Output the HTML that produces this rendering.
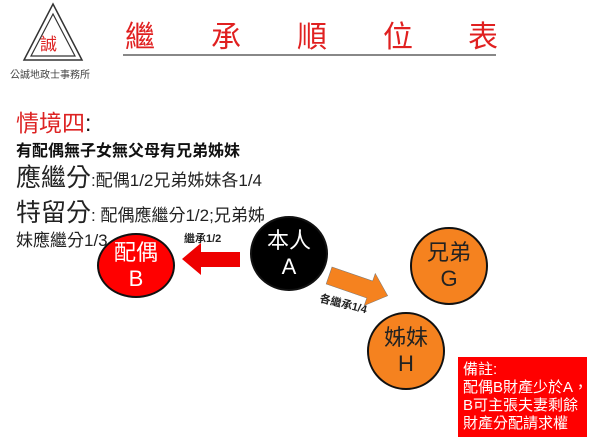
<!DOCTYPE html><html><head><meta charset="utf-8"><style>
body{margin:0;width:600px;height:442px;background:#fff;overflow:hidden;position:relative;font-family:"Liberation Sans","Noto Sans CJK TC",sans-serif}
.a{position:absolute;white-space:nowrap}
.c{position:absolute;border:2px solid #111;border-radius:50%;box-sizing:border-box;text-align:center;font-size:22px;line-height:26px;display:flex;flex-direction:column;justify-content:center}
</style></head><body>
<svg class="a" style="left:0;top:0" width="600" height="442">
<polygon points="53,4 82,60 24,60" fill="none" stroke="#333" stroke-width="1.5"/>
<polygon points="53,14 75,56 31,56" fill="none" stroke="#333" stroke-width="1.2"/>
<line x1="123" y1="55" x2="496" y2="55" stroke="#888" stroke-width="2"/>
<polygon points="240,252 201,252 201,243 182,259 201,275 201,267 240,267" fill="#e00"/>
<g transform="translate(332,267) rotate(19)"><polygon points="0,0 43,0 43,-8 62,9 43,26 43,18 0,18" fill="#f5821f" stroke="#777" stroke-width="0.5"/></g>
</svg>
<div class="a" style="left:40px;top:30px;font-size:17px;color:#d22">誠</div>
<div class="a" style="left:10px;top:66px;font-size:10px;color:#444">公誠地政士事務所</div>
<div class="a" style="left:125px;top:12px;font-size:30px;color:#e02020">繼</div>
<div class="a" style="left:211px;top:12px;font-size:30px;color:#e02020">承</div>
<div class="a" style="left:297px;top:12px;font-size:30px;color:#e02020">順</div>
<div class="a" style="left:383px;top:12px;font-size:30px;color:#e02020">位</div>
<div class="a" style="left:468px;top:12px;font-size:30px;color:#e02020">表</div>
<div class="a" style="left:16px;top:104px;font-size:23px;color:#d22">情境四<span style="color:#111">:</span></div>
<div class="a" style="left:16px;top:137px;font-size:16px;font-weight:bold;color:#111">有配偶無子女無父母有兄弟姊妹</div>
<div class="a" style="left:16px;top:158px;font-size:25px;color:#222">應繼分<span style="font-size:17px">:配偶1/2兄弟姊妹各1/4</span></div>
<div class="a" style="left:16px;top:193px;font-size:25px;color:#222">特留分<span style="font-size:17px">: 配偶應繼分1/2;兄弟姊</span></div>
<div class="a" style="left:16px;top:226px;font-size:17px;color:#222">妹應繼分1/3</div>
<div class="c" style="left:97px;top:233px;width:78px;height:65px;background:#f00;color:#fff">配偶<br>B</div>
<div class="c" style="left:250px;top:216px;width:78px;height:75px;background:#000;color:#fff">本人<br>A</div>
<div class="c" style="left:410px;top:227px;width:78px;height:78px;background:#f5821f;color:#222">兄弟<br>G</div>
<div class="c" style="left:367px;top:312px;width:78px;height:78px;background:#f5821f;color:#222">姊妹<br>H</div>
<div class="a" style="left:184px;top:230px;font-size:11px;font-weight:bold;color:#222">繼承1/2</div>
<div class="a" style="left:322px;top:290px;font-size:11px;font-weight:bold;color:#222;transform:rotate(14deg);transform-origin:left top">各繼承1/4</div>
<div class="a" style="left:458px;top:357px;width:129px;height:80px;background:#f00;color:#fff;font-size:15px;line-height:18px;padding:4px 0 0 5px;box-sizing:border-box">備註:<br>配偶B財產少於A，<br>B可主張夫妻剩餘<br>財產分配請求權</div>
</body></html>
